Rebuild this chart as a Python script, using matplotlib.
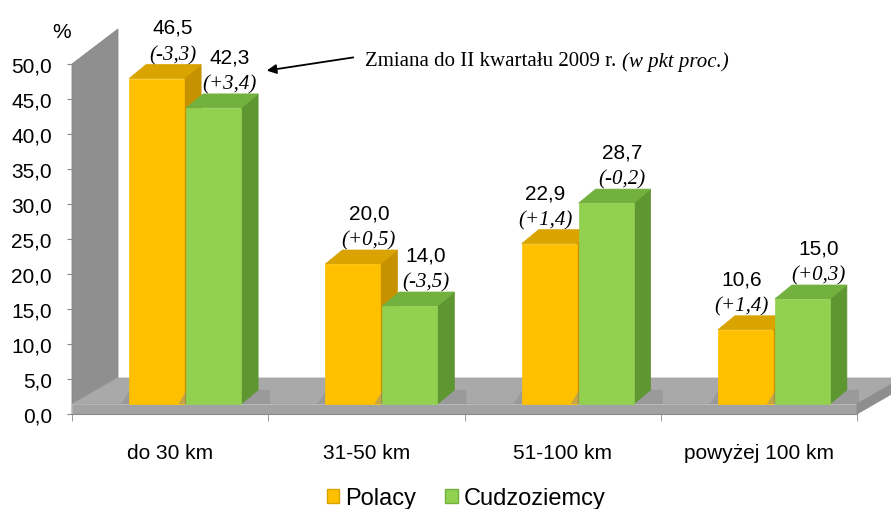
import matplotlib.pyplot as plt
from matplotlib.patches import Polygon, Rectangle, Patch

# dane z wykresu
kategorie = ["do 30 km", "31-50 km", "51-100 km", "powyżej 100 km"]
polacy = [46.5, 20.0, 22.9, 10.6]
cudzoziemcy = [42.3, 14.0, 28.7, 15.0]
zmiana_polacy = ["(-3,3)", "(+0,5)", "(+1,4)", "(+1,4)"]
zmiana_cudzoziemcy = ["(+3,4)", "(-3,5)", "(-0,2)", "(+0,3)"]
wartosci_osi = [0, 5, 10, 15, 20, 25, 30, 35, 40, 45, 50]

plt.rcParams['font.family'] = ['Liberation Sans', 'DejaVu Sans']

W, H = 891, 510
fig = plt.figure(figsize=(W / 100, H / 100), dpi=100)
ax = fig.add_axes([72 / W, 95 / H, 785 / W, 350 / H])
ax.set_xlim(-0.5, 3.5)
ax.set_ylim(0, 50)

# ile jednostek danych na piksel
PX = 4 / 785
PY = 50 / 350


def piksel(xp, yp):
    """pozycja w pikselach obrazka -> wspolrzedne danych"""
    return -0.5 + (xp - 72) * PX, (415 - yp) * PY


# sciana, podloga (efekt 3D)
SZ_X = 46 * PX
ax.add_patch(Polygon([(-0.5, 0), (-0.5, 50), (-0.5 + SZ_X, 50 + 35 * PY), (-0.5 + SZ_X, 35 * PY)],
                     closed=True, facecolor='#8f8f8f', edgecolor='#8a8a8a', lw=0.6, clip_on=False, zorder=1))
podst = 10 * PY
gl_x, gl_y = 45 * PX, 26 * PY
ax.add_patch(Polygon([(-0.5, podst), (3.5, podst), (3.5 + gl_x, podst + gl_y), (-0.5 + gl_x, podst + gl_y)],
                     closed=True, facecolor='#a9a9a9', edgecolor='#a0a0a0', lw=0.6, clip_on=False, zorder=1.1))
ax.add_patch(Rectangle((-0.5, 0), 4, podst, facecolor='#a2a2a2', edgecolor='#b8b8b8', lw=0.6,
                       clip_on=False, zorder=1.1))
ax.add_patch(Polygon([(3.5, 0), (3.5, podst), (3.5 + gl_x, podst + gl_y), (3.5 + gl_x, gl_y)],
                     closed=True, facecolor='#8e8e8e', edgecolor='#8e8e8e', lw=0.6, clip_on=False, zorder=1.1))

SZER = 55 * PX
G_X, G_Y = 17 * PX, 14 * PY
kol_pol = ('#FFC000', '#D9A300', '#C79200')
kol_cud = ('#92D050', '#72B13D', '#5E9632')


def slupek(x0, v, kolory, z):
    przod, gora, bok = kolory
    b = podst
    # cien na podlodze
    ax.add_patch(Polygon([(x0 - 8 * PX, b), (x0 + SZER + G_X + 12 * PX, b), (x0 + SZER + G_X + 12 * PX, b + G_Y),
                          (x0 + 2 * PX, b + G_Y + 2 * PY)], closed=True, facecolor='#8c8c8c', alpha=0.5,
                         lw=0, clip_on=False, zorder=z - 0.1))
    ax.add_patch(Polygon([(x0 + SZER, b), (x0 + SZER + G_X, b + G_Y), (x0 + SZER + G_X, b + v + G_Y), (x0 + SZER, b + v)],
                         closed=True, facecolor=bok, edgecolor=bok, lw=0.5, clip_on=False, zorder=z))
    ax.add_patch(Polygon([(x0, b + v), (x0 + SZER, b + v), (x0 + SZER + G_X, b + v + G_Y), (x0 + G_X, b + v + G_Y)],
                         closed=True, facecolor=gora, edgecolor=gora, lw=0.5, clip_on=False, zorder=z))
    ax.add_patch(Rectangle((x0, b), SZER, v, facecolor=przod, edgecolor=przod, lw=0.5, clip_on=False, zorder=z))


def etykieta(xs, v, wartosc, zmiana):
    y = podst + v + G_Y
    ax.annotate(zmiana, (xs, y), xytext=(0, 10 * 0.72), textcoords='offset points', ha='center', va='center',
                fontsize=15, family='Liberation Serif', style='italic', annotation_clip=False)
    ax.annotate(wartosc, (xs, y), xytext=(0, 37 * 0.72), textcoords='offset points', ha='center', va='center',
                fontsize=15, annotation_clip=False)


for i in range(len(kategorie)):
    x_pol = i - 41 * PX
    x_cud = i + 16 * PX
    slupek(x_pol, polacy[i], kol_pol, 2 + i)
    slupek(x_cud, cudzoziemcy[i], kol_cud, 2.5 + i)
    przes = 16 * PX if polacy[i] > cudzoziemcy[i] else -4 * PX
    etykieta(x_pol + SZER / 2 + przes, polacy[i], f"{polacy[i]:.1f}".replace('.', ','), zmiana_polacy[i])
    etykieta(x_cud + SZER / 2 + 16 * PX, cudzoziemcy[i], f"{cudzoziemcy[i]:.1f}".replace('.', ','),
             zmiana_cudzoziemcy[i])

# osie
for s in ['top', 'right']:
    ax.spines[s].set_visible(False)
ax.spines['left'].set_color('#8a8a8a')
ax.spines['bottom'].set_color('#8a8a8a')
ax.spines['left'].set_zorder(1.05)
ax.set_yticks(wartosci_osi)
ax.set_yticklabels([f"{v:.1f}".replace('.', ',') for v in wartosci_osi])
ax.tick_params(axis='y', length=3.5, color='#8a8a8a', pad=11, labelsize=15)
ax.set_xticks(range(len(kategorie)))
ax.set_xticklabels(kategorie)
ax.set_xticks([i - 0.5 for i in range(len(kategorie) + 1)], minor=True)
ax.tick_params(axis='x', which='major', length=0, pad=21, labelsize=15)
ax.tick_params(axis='x', which='minor', length=5, color='#8a8a8a')
ax.patch.set_visible(False)

fig.text(62 / W, 1 - 33 / H, "%", ha='center', va='center', fontsize=15)

# opis zmiany ze strzalka
ax.annotate('', xy=piksel(264, 72), xytext=piksel(356, 58),
            arrowprops=dict(arrowstyle='-|>', color='black', lw=1.3, mutation_scale=14), annotation_clip=False)
t1 = ax.text(*piksel(365, 62), "Zmiana do II kwartału 2009 r.", ha='left', va='center', fontsize=15,
             family='Liberation Serif', clip_on=False)
ax.annotate("(w pkt proc.)", xy=(1, 0.5), xycoords=t1, xytext=(4, 0), textcoords='offset points',
            ha='left', va='center', fontsize=15, family='Liberation Serif', style='italic')

uchwyty = [Patch(facecolor='#FFC000', edgecolor='#D9A300', label='Polacy'),
           Patch(facecolor='#92D050', edgecolor='#72B13D', label='Cudzoziemcy')]
fig.legend(handles=uchwyty, loc='center', bbox_to_anchor=(466 / W, 1 - 499 / H), ncol=2, frameon=False,
           fontsize=17, handlelength=0.55, handleheight=0.55, handletextpad=0.25, columnspacing=1.2)

fig.savefig('out.png', dpi=100)
